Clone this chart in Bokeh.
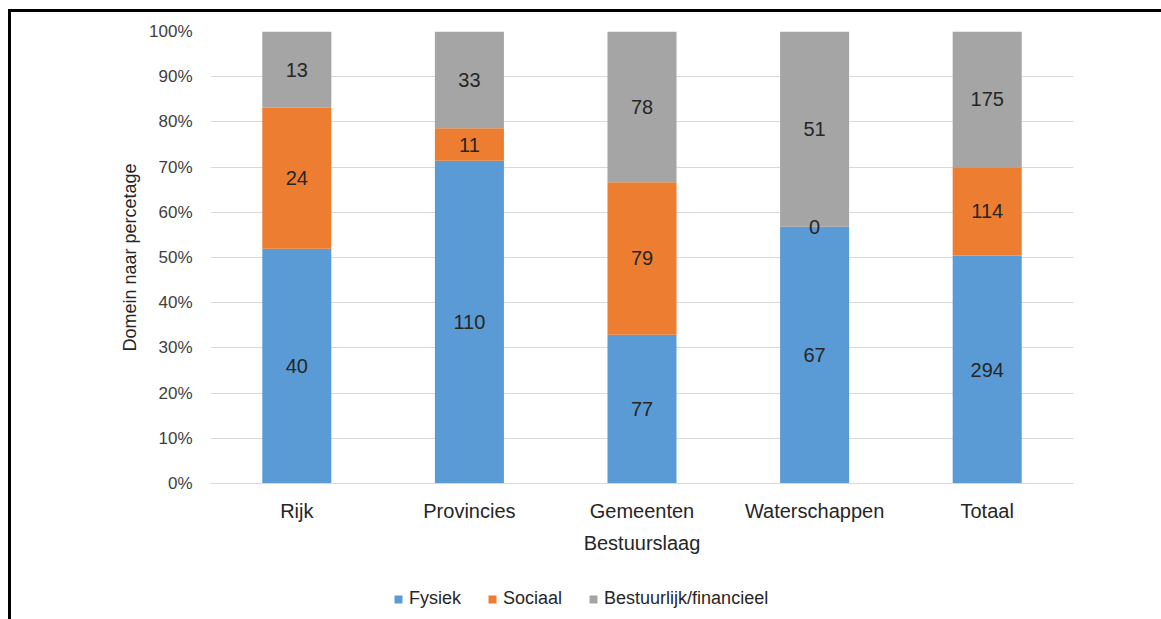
from bokeh.plotting import figure
from bokeh.layouts import column
from bokeh.models import ColumnDataSource, NumeralTickFormatter, FixedTicker, Legend, LegendItem, Range1d
from bokeh.embed import file_html
from bokeh.resources import INLINE
from bokeh.core.properties import value

categories = ["Rijk", "Provincies", "Gemeenten", "Waterschappen", "Totaal"]
fysiek = [40, 110, 77, 67, 294]
sociaal = [24, 11, 79, 0, 114]
bestuurlijk = [13, 33, 78, 51, 175]
series_names = ["Fysiek", "Sociaal", "Bestuurlijk/financieel"]
series_keys = ["fysiek", "sociaal", "bestuurlijk"]
colors = ["#5B9BD5", "#ED7D31", "#A5A5A5"]
y_ticks = [0, 0.1, 0.2, 0.3, 0.4, 0.5, 0.6, 0.7, 0.8, 0.9, 1.0]

FONT = "Liberation Sans"
TXT = "#262626"

totals = [a + b + c for a, b, c in zip(fysiek, sociaal, bestuurlijk)]
pf = [a / t for a, t in zip(fysiek, totals)]
ps = [b / t for b, t in zip(sociaal, totals)]
pb = [c / t for c, t in zip(bestuurlijk, totals)]

src = ColumnDataSource(dict(cat=categories, fysiek=pf, sociaal=ps, bestuurlijk=pb))

p = figure(x_range=categories, y_range=Range1d(0, 1), width=1153, height=554,
           output_backend="svg", toolbar_location=None,
           min_border_left=199, min_border_right=91, min_border_top=19, min_border_bottom=83)
p.styles = {"border-left": "3px solid black", "border-top": "3px solid black"}
p.outline_line_color = None

renderers = p.vbar_stack(series_keys, x="cat", width=0.4, color=colors, line_color=None, source=src)

# labels
lab_x, lab_y, lab_t = [], [], []
for i, c in enumerate(categories):
    base = 0.0
    for vals, pct in ((fysiek, pf), (sociaal, ps), (bestuurlijk, pb)):
        lab_x.append(c)
        lab_y.append(base + pct[i] / 2)
        lab_t.append(str(vals[i]))
        base += pct[i]
lsrc = ColumnDataSource(dict(x=lab_x, y=lab_y, t=lab_t))
p.text(x="x", y="y", text="t", source=lsrc, text_align="center", text_baseline="middle",
       text_font=value(FONT), text_font_size="20px", text_color=TXT)

p.xgrid.grid_line_color = None
p.ygrid.grid_line_color = "#d9d9d9"
p.ygrid.grid_line_width = 1
p.yaxis.ticker = FixedTicker(ticks=y_ticks)
p.yaxis.formatter = NumeralTickFormatter(format="0%")

for ax in (p.xaxis, p.yaxis):
    ax.axis_line_color = None
    ax.major_tick_line_color = None
    ax.minor_tick_line_color = None
    ax.major_label_text_font = FONT
    ax.major_label_text_color = "#404040"
    ax.axis_label_text_font = FONT
    ax.axis_label_text_font_style = "normal"
    ax.axis_label_text_color = TXT

p.xaxis.axis_line_color = "#d9d9d9"
p.xaxis.major_label_text_font_size = "20px"
p.xaxis.major_label_text_color = TXT
p.xaxis.major_label_standoff = 10
p.xaxis.axis_label = "Bestuurslaag"
p.xaxis.axis_label_text_font_size = "20px"
p.xaxis.axis_label_standoff = 7

p.yaxis.major_label_text_font_size = "17px"
p.yaxis.major_label_standoff = 12
p.yaxis.axis_label = "Domein naar percetage"
p.yaxis.axis_label_text_font_size = "18px"
p.yaxis.axis_label_standoff = 6

# legend strip below the chart (swatch renderers sit outside its visible range)
pl = figure(width=1153, height=56, x_range=Range1d(0, 1), y_range=Range1d(0, 1),
            output_backend="svg", toolbar_location=None,
            x_axis_location=None, y_axis_location=None,
            min_border_left=0, min_border_right=0, min_border_top=0, min_border_bottom=0)
pl.styles = {"border-left": "3px solid black"}
pl.outline_line_color = None
pl.xgrid.visible = False
pl.ygrid.visible = False
leg_r = [pl.quad(left=[-3], right=[-2], bottom=[-3], top=[-2], fill_color=c, line_color=None)
         for c in colors]
items = [LegendItem(label=n, renderers=[r]) for n, r in zip(series_names, leg_r)]
legend = Legend(items=items, orientation="horizontal", location=(183, 10),
                glyph_width=10, glyph_height=10, label_standoff=6, spacing=26,
                padding=0, margin=0, border_line_color=None, background_fill_alpha=0,
                label_text_font=FONT, label_text_font_size="18px", label_text_color=TXT)
pl.add_layout(legend, "center")

layout = column(p, pl, spacing=0)
layout.margin = (9, 0, 0, 8)

open("out.html", "w").write(file_html(layout, INLINE))
